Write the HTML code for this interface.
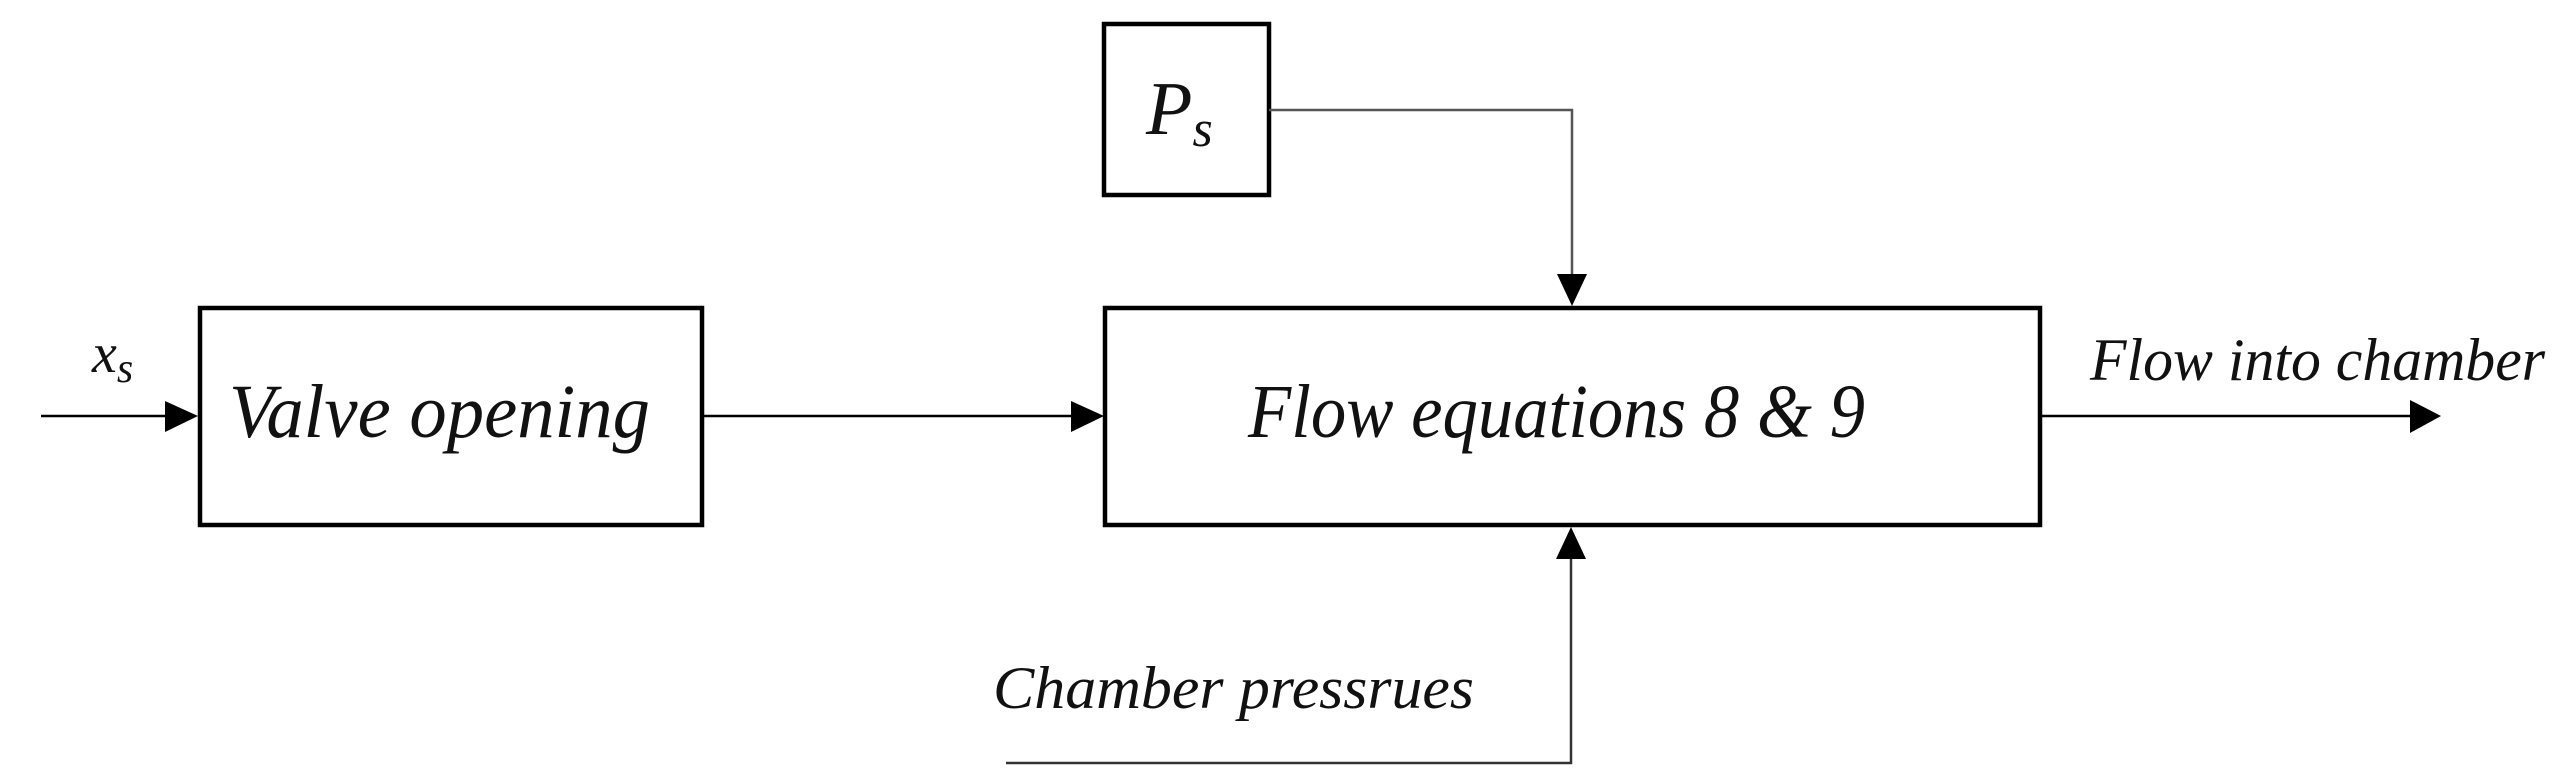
<!DOCTYPE html>
<html><head><meta charset="utf-8"><style>
html,body{margin:0;padding:0;background:#fff;}
svg{display:block;}
text{font-family:"Liberation Serif",serif;font-style:italic;fill:#111;}
</style></head><body>
<svg width="2564" height="782" viewBox="0 0 2564 782" xmlns="http://www.w3.org/2000/svg">
<rect x="1104" y="24" width="165" height="171" fill="none" stroke="#000" stroke-width="4.5"/>
<rect x="200" y="308" width="502" height="217" fill="none" stroke="#000" stroke-width="4.5"/>
<rect x="1105" y="308" width="935" height="217" fill="none" stroke="#000" stroke-width="4.5"/>
<line x1="41" y1="416" x2="170" y2="416" stroke="#000" stroke-width="2.5"/>
<polygon points="165,401 198,416 165,432" fill="#000"/>
<line x1="702" y1="416" x2="1075" y2="416" stroke="#000" stroke-width="2.5"/>
<polygon points="1071,401 1104,416 1071,432" fill="#000"/>
<line x1="2040" y1="416" x2="2415" y2="416" stroke="#000" stroke-width="2.5"/>
<polygon points="2410,400 2441,416 2410,433" fill="#000"/>
<polyline points="1269,110 1572,110 1572,280" fill="none" stroke="#555" stroke-width="2.5"/>
<polygon points="1557,274 1587,274 1572,306" fill="#000"/>
<polyline points="1006,763 1571,763 1571,555" fill="none" stroke="#333" stroke-width="2.5"/>
<polygon points="1556,559 1586,559 1571,527" fill="#000"/>
<text x="1146" y="134" font-size="76">P<tspan font-size="52" dy="12">s</tspan></text>
<text x="92" y="372" font-size="56">x<tspan font-size="42" dy="10">s</tspan></text>
<text x="229" y="437" font-size="76" textLength="421" lengthAdjust="spacingAndGlyphs">Valve opening</text>
<text x="1248" y="437" font-size="76" textLength="617" lengthAdjust="spacingAndGlyphs">Flow equations 8 &amp; 9</text>
<text x="2090" y="380" font-size="60" textLength="455" lengthAdjust="spacingAndGlyphs">Flow into chamber</text>
<text x="993" y="708" font-size="60" textLength="481" lengthAdjust="spacingAndGlyphs">Chamber pressrues</text>
</svg>
</body></html>
